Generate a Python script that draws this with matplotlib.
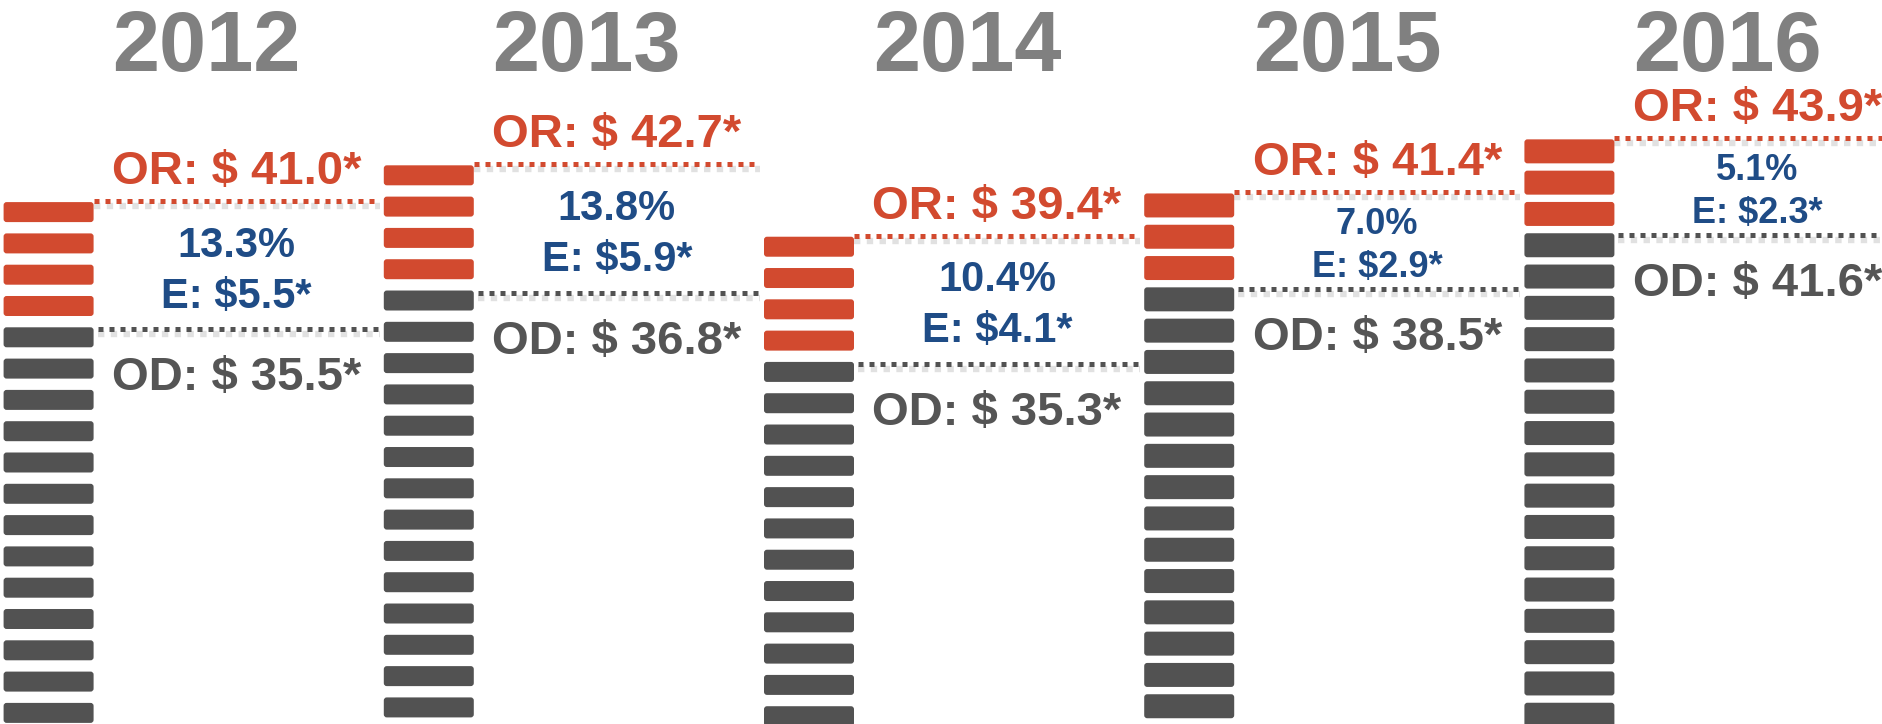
import matplotlib
matplotlib.use("Agg")
import matplotlib.pyplot as plt
from matplotlib.patches import FancyBboxPatch

# ---- data ----
years = ["2012", "2013", "2014", "2015", "2016"]
or_values = [41.0, 42.7, 39.4, 41.4, 43.9]
od_values = [35.5, 36.8, 35.3, 38.5, 41.6]
e_values = [5.5, 5.9, 4.1, 2.9, 2.3]
e_pct = [13.3, 13.8, 10.4, 7.0, 5.1]
red_segments = [4, 4, 4, 3, 3]

# ---- style ----
RED = "#D24A2F"
GRAY = "#525252"
BLUE = "#1F4C86"
YEAR_GRAY = "#808080"
OD_GRAY = "#555555"
seg_h_px = [20, 20, 20, 24, 24]
blue_fs = [30, 30, 30, 26, 26]
blue_sp_px = [51, 51, 51, 43, 43]
FONT = ["Liberation Sans", "DejaVu Sans"]

W, H, DPI = 1883, 724, 100
fig = plt.figure(figsize=(W / DPI, H / DPI), dpi=DPI)
ax = fig.add_axes([0, 0, 1, 1])
xlim = (-0.1278, 4.8248)
ylim = (16.88, 50.34)
ax.set_xlim(*xlim)
ax.set_ylim(*ylim)
ax.axis("off")

PXX = W / (xlim[1] - xlim[0])
PXY = H / (ylim[1] - ylim[0])
hw = 45 / PXX
pitch = 31.3 / PXY


def dotted(x0, x1, y, color):
    # soft shadow
    ax.plot([x0, x1], [y - 5 / PXY, y - 5 / PXY], color="#bdbdbd", alpha=0.45,
            lw=4.6, dashes=(1, 1.0), solid_capstyle="butt", zorder=2)
    ax.plot([x0, x1], [y, y], color=color, lw=3.6, dashes=(1, 1.2),
            dash_capstyle="butt", zorder=3)


for i, yr in enumerate(years):
    top = or_values[i]
    # segments
    k = 0
    while True:
        yt = top - k * pitch
        if yt < ylim[0]:
            break
        yb = yt - seg_h_px[i] / PXY
        color = RED if k < red_segments[i] else GRAY
        p = FancyBboxPatch((i - hw, yb), 2 * hw, yt - yb,
                           boxstyle=f"round,pad=0,rounding_size={3 / PXX}",
                           mutation_aspect=PXX / PXY,
                           facecolor=color, edgecolor="none", zorder=4)
        ax.add_patch(p)
        k += 1

    red_y = top + 1 / PXY
    gray_y = top - red_segments[i] * pitch - 2 / PXY
    x_end = (i + 1 - hw - 4 / PXX) if i < len(years) - 1 else xlim[1]
    dotted(i + hw, x_end, red_y, RED)
    dotted(i + hw + 4 / PXX, x_end, gray_y, GRAY)

    cx = i + 188 / PXX
    ax.text(cx, red_y + 17 / PXY, f"OR: \\$ {or_values[i]:.1f}*", color=RED,
            fontsize=34, fontweight="bold", family=FONT, ha="center", va="baseline", zorder=5)

    mid = (red_y + gray_y) / 2
    cap = blue_fs[i] * DPI / 72 * 0.716
    sp = blue_sp_px[i]
    ax.text(cx, mid + (sp / 2 - cap / 2 - 2) / PXY, f"{e_pct[i]:.1f}%", color=BLUE,
            fontsize=blue_fs[i], fontweight="bold", family=FONT, ha="center", va="baseline", zorder=5)
    ax.text(cx, mid - (sp / 2 + cap / 2 + 2) / PXY, f"E: \\${e_values[i]:.1f}*", color=BLUE,
            fontsize=blue_fs[i], fontweight="bold", family=FONT, ha="center", va="baseline", zorder=5)

    ax.text(cx, gray_y - 61 / PXY, f"OD: \\$ {od_values[i]:.1f}*", color=OD_GRAY,
            fontsize=34, fontweight="bold", family=FONT, ha="center", va="baseline", zorder=5)

    ax.text(i + 158 / PXX, ylim[1] - 71 / PXY, yr, color=YEAR_GRAY,
            fontsize=61, fontweight="bold", family=FONT, ha="center", va="baseline", zorder=5)

fig.savefig("out.png", dpi=DPI)
